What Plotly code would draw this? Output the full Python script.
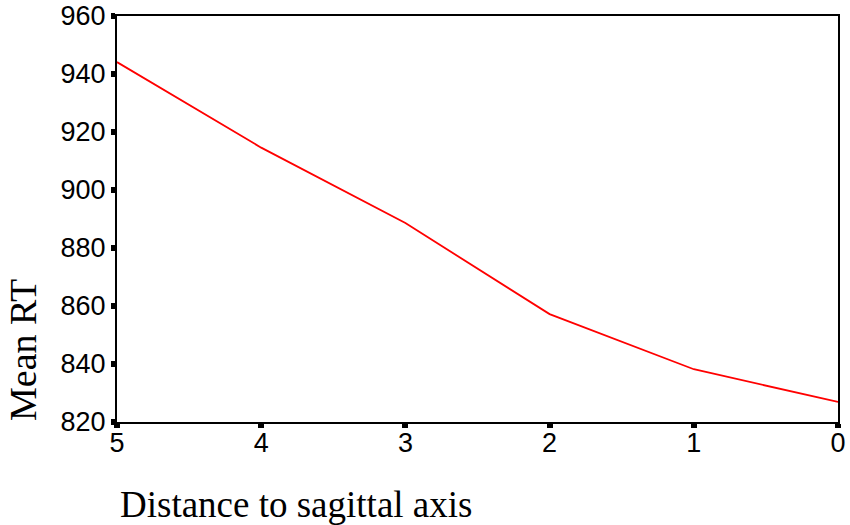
import plotly.graph_objects as go

distance = [5, 4, 3, 2, 1, 0]
mean_rt = [944.1, 914.6, 888.6, 857.2, 838.2, 826.9]
x_ticks = [5, 4, 3, 2, 1, 0]
y_ticks = [820, 840, 860, 880, 900, 920, 940, 960]

fig = go.Figure()
fig.add_trace(go.Scatter(x=distance, y=mean_rt, mode="lines",
                         line=dict(color="#ff0000", width=1.8),
                         showlegend=False, cliponaxis=False, hoverinfo="skip"))

W, H = 850, 525
L, R, T, B = 117, 12, 16, 103
pw = W - L - R
ph = H - T - B

axis_common = dict(showgrid=False, zeroline=False, showline=True, mirror=True,
                   linecolor="black", linewidth=2, ticks="outside",
                   tickcolor="black", tickwidth=6, ticklen=4, automargin=False,
                   tickfont=dict(family="Liberation Sans, Arial", size=27, color="black"))

fig.update_xaxes(range=[5, 0], tickmode="array", tickvals=x_ticks,
                 ticktext=[str(v) for v in x_ticks], ticklabelstandoff=-8, **axis_common)
fig.update_yaxes(range=[820, 960], tickmode="array", tickvals=y_ticks,
                 ticktext=[str(v) for v in y_ticks], **axis_common)

fig.add_annotation(text="Distance to sagittal axis", xref="paper", yref="paper",
                   x=(296 - L) / pw, y=(H - B - 504) / ph, xanchor="center", yanchor="middle",
                   showarrow=False,
                   font=dict(family="Liberation Serif, Times New Roman", size=37, color="black"))
fig.add_annotation(text="Mean RT", xref="paper", yref="paper",
                   x=(23 - L) / pw, y=(H - B - 350) / ph, xanchor="center", yanchor="middle",
                   textangle=-90, showarrow=False,
                   font=dict(family="Liberation Serif, Times New Roman", size=38, color="black"))

fig.update_layout(width=W, height=H, margin=dict(l=L, r=R, t=T, b=B, autoexpand=False),
                  plot_bgcolor="white", paper_bgcolor="white", hovermode=False)

fig.write_html("out.html", config={"displayModeBar": False},
               post_script="document.body.style.margin='0';document.body.style.overflow='hidden';")
